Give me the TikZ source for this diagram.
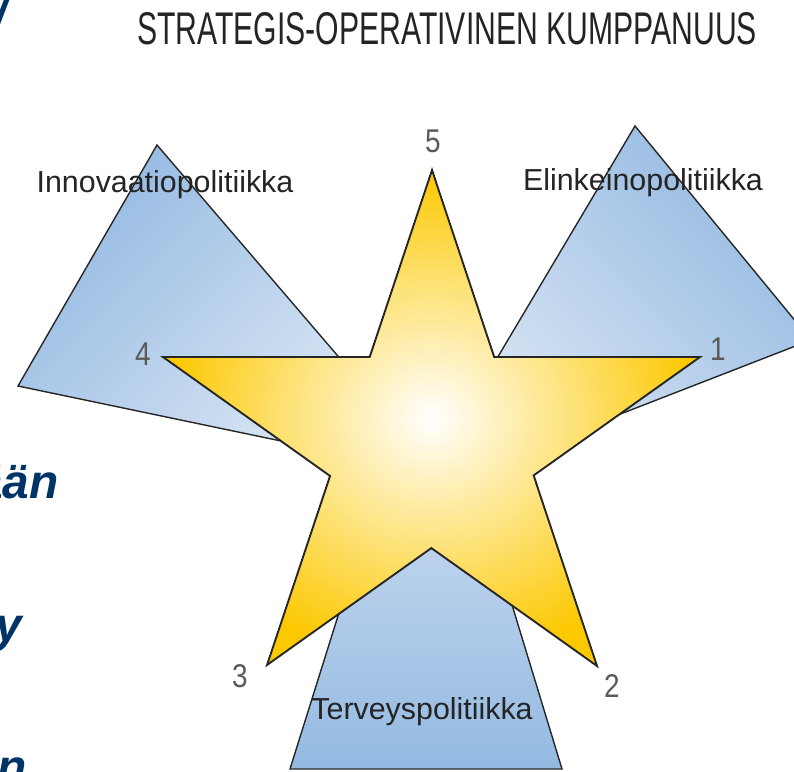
\documentclass[tikz,border=0pt]{standalone}
\usepackage{fontspec}
\setmainfont{Liberation Sans}
\usepackage{xcolor}
\usepackage{tikz}
\usetikzlibrary{calc}

\definecolor{polblue}{RGB}{148,186,226}
\definecolor{polpale}{RGB}{226,235,246}
\definecolor{staryellow}{RGB}{252,200,0}
\definecolor{edgegray}{RGB}{38,38,38}
\definecolor{labelgray}{RGB}{36,36,36}
\definecolor{numgray}{RGB}{90,90,90}
\definecolor{slidenavy}{RGB}{0,51,102}

\tikzset{
  polside/.style={draw=edgegray, line width=1.4bp, line join=miter},
  starbody/.style={draw=edgegray, line width=1.9bp, line join=miter},
  polname/.style={text=labelgray, inner sep=0pt, font=\fontsize{30.5}{32}\selectfont},
  tipnum/.style={text=numgray, inner sep=0pt, xscale=0.85, font=\fontsize{33}{34}\selectfont},
  slidetext/.style={text=slidenavy, inner sep=0pt, font=\fontsize{48}{50}\selectfont\bfseries\itshape}
}

\begin{document}
\begin{tikzpicture}[x=1bp, y=-1bp] % pixel grid, y runs down
\useasboundingbox (0,0) rectangle (794,772);
\clip (0,0) rectangle (794,772);

% Star tips
\coordinate (p5) at (432,170);
\coordinate (p1) at (700,357);
\coordinate (p2) at (597,666);
\coordinate (p3) at (267,665);
\coordinate (p4) at (163,357);
% Inner corners of the star
\coordinate (q51) at (intersection of p5--p2 and p1--p4);
\coordinate (q12) at (intersection of p1--p3 and p2--p5);
\coordinate (q23) at (intersection of p2--p4 and p3--p1);
\coordinate (q34) at (intersection of p3--p5 and p4--p2);
\coordinate (q45) at (intersection of p4--p1 and p5--p3);

% Blue sectors behind the star
% upper left
\shadedraw[polside, top color=polblue, bottom color=polpale, shading angle=45]
  (157,145) -- (18,386) -- (439,474) -- cycle;
% upper right
\shadedraw[polside, top color=polblue, bottom color=polpale, shading angle=-45]
  (635,126) -- (811,340) -- (417,493) -- cycle;
% bottom
\shadedraw[polside, top color=polpale, bottom color=polblue]
  (428,329) -- (290,769) -- (562,769) -- cycle;

% Star
\shadedraw[starbody, inner color=white, outer color=staryellow]
  (p5) -- (q51) -- (p1) -- (q12) -- (p2) -- (q23) -- (p3) -- (q34) -- (p4) -- (q45) -- cycle;

% Title
\node[text=labelgray, inner sep=0pt, anchor=base, xscale=0.658,
      font=\fontsize{46}{48}\selectfont] (title) at (447,45) {STRATEGIS-OPERATIVINEN KUMPPANUUS};

% Sector names
\node[polname, anchor=base] (innov) at (165,192) {Innovaatiopolitiikka};
\node[polname, anchor=base] (elink) at (643,190) {Elinkeinopolitiikka};
\node[polname, anchor=base] (terv) at (422,719) {Terveyspolitiikka};

% Tip numbers
\node[tipnum, anchor=base] (n5) at (433,152) {5};
\node[tipnum, anchor=base] (n1) at (718,360) {1};
\node[tipnum, anchor=base] (n2) at (612,697) {2};
\node[tipnum, anchor=base] (n3) at (240,687) {3};
\node[tipnum, anchor=base] (n4) at (143,365) {4};

% Cut-off slide text on the left
\node[slidetext, anchor=base west] (frag0) at (-6,30) {/};
\node[slidetext, anchor=base east] (frag1) at (59,498) {ään};
\node[slidetext, anchor=base east] (frag2) at (22,641) {y};
\node[slidetext, anchor=base east] (frag3) at (27,783) {n};

\end{tikzpicture}
\end{document}
